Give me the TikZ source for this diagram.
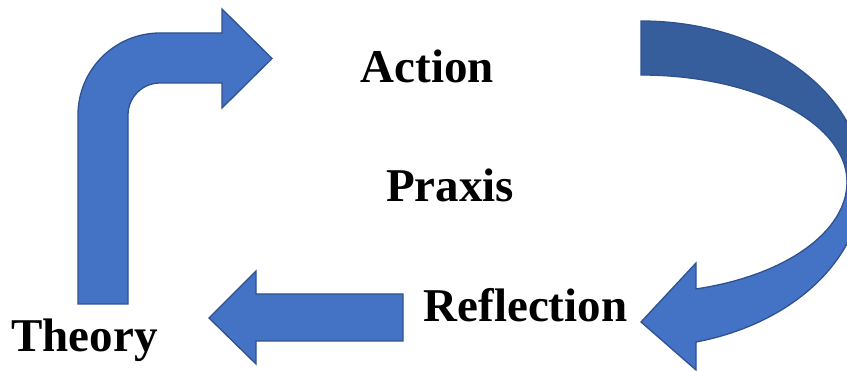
\documentclass[tikz,border=0pt]{standalone}
\usepackage{fontspec}
\setmainfont{Liberation Serif}
\definecolor{arrowfill}{RGB}{68,114,196}
\definecolor{arrowdark}{RGB}{54,94,157}
\definecolor{arrowline}{RGB}{47,82,143}
\tikzset{
  blockarrow/.style={fill=arrowfill, draw=arrowline, line width=1.3pt, line join=miter},
  blockdark/.style={fill=arrowdark, draw=arrowline, line width=1.3pt, line join=miter},
  label/.style={font=\bfseries\fontsize{47}{51}\selectfont, inner sep=0pt, anchor=base, text=black}
}
\begin{document}
\begin{tikzpicture}[x=1pt,y=-1pt]
\useasboundingbox (0,0) rectangle (847,371);
\fill[white] (0,0) rectangle (847,371);
\begin{scope}
\clip (0,0) rectangle (847,371);
% bent-up arrow (theory -> action)
\path[blockarrow] (78,304) -- (78,115) arc[start angle=180, end angle=270, radius=82]
  -- (222,33) -- (222,9) -- (272,58.5) -- (222,108) -- (222,83) -- (160,83)
  arc[start angle=270, end angle=180, radius=32] -- (128,304) -- cycle;
% curved arrow (action -> reflection), back part
\path[blockdark] (641,21) arc[start angle=-90, end angle=0, x radius=222, y radius=161]
  -- (847,182) arc[start angle=0, end angle=-90, x radius=206, y radius=107] -- cycle;
% curved arrow, front part with head
\path[blockarrow] (847,182) arc[start angle=0, end angle=74.5, x radius=206, y radius=111]
  -- (696,263) -- (641,322) -- (696,370) -- (696,342)
  arc[start angle=75.66, end angle=0, x radius=222, y radius=165] -- cycle;
% straight left arrow (reflection -> theory)
\path[blockarrow] (209,318) -- (256,271) -- (256,294) -- (403,294) -- (403,341)
  -- (256,341) -- (256,364) -- cycle;
\end{scope}
\node[label] (action) at (427.5,83) {Action};
\node[label] (praxis) at (450,201.5) {Praxis};
\node[label] (reflection) at (525.5,321.7) {Reflection};
\node[label] (theory) at (84.5,351.7) {Theory};
\end{tikzpicture}
\end{document}
